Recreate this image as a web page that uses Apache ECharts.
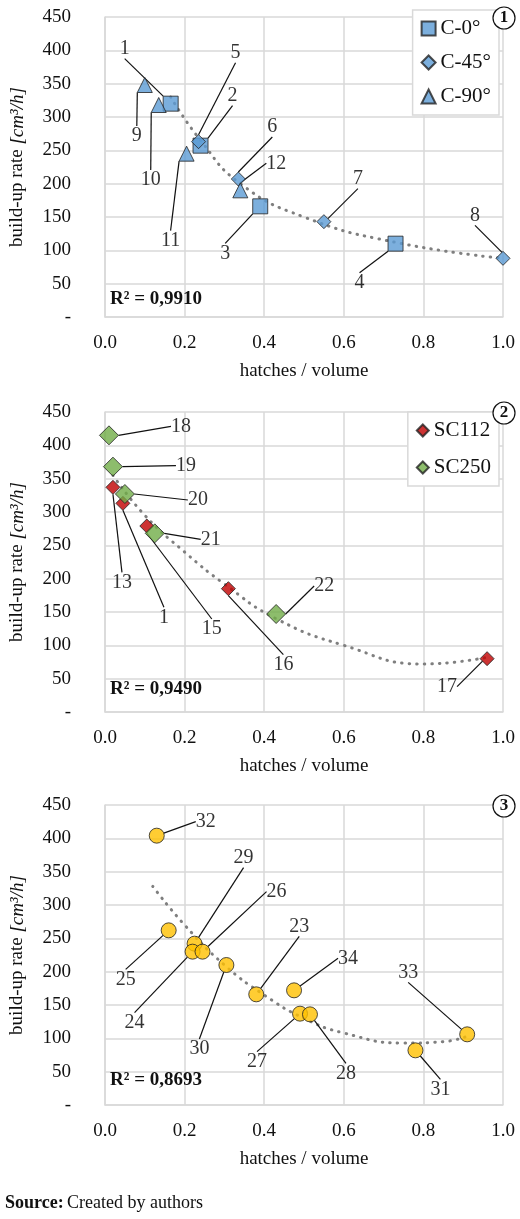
<!DOCTYPE html>
<html><head><meta charset="utf-8">
<script src="https://cdn.jsdelivr.net/npm/echarts@6/dist/echarts.min.js"></script>
<style>html,body{margin:0;padding:0;background:#fff}#c{width:520px;height:1219px}</style>
</head><body><div id="c"></div>
<script>
// Panel 1
const c0_x=[0.165,0.24,0.39,0.73], c0_y=[320,257,166,110], c0_id=['1','2','3','4'];
const c45_x=[0.235,0.335,0.55,1.0], c45_y=[263,207,143,88], c45_id=['5','6','7','8'];
const c90_x=[0.10,0.135,0.205,0.34], c90_y=[348,318,245,190], c90_id=['9','10','11','12'];
const t1_x=[0.165,0.24,0.34,0.5,0.73,1.0], t1_y=[330,265,200,150,112,88];
// Panel 2
const sc112_x=[0.02,0.045,0.105,0.31,0.96], sc112_y=[337,313,279,185,80], sc112_id=['13','1','15','16','17'];
const sc250_x=[0.01,0.02,0.05,0.125,0.43], sc250_y=[415,368,327,268,147], sc250_id=['18','19','20','21','22'];
const t2_x=[0.02,0.1,0.2,0.3,0.43,0.6,0.8,0.96], t2_y=[355,295,240,192,140,100,72,82];
// Panel 3
const p3_x=[0.13,0.16,0.225,0.22,0.245,0.305,0.38,0.475,0.49,0.515,0.78,0.91];
const p3_y=[404,262,242,230,230,210,166,172,137,136,82,106];
const p3_id=['32','25','29','24','26','30','23','34','27','28','31','33'];
const t3_x=[0.12,0.2,0.3,0.4,0.5,0.6,0.75,0.85,0.91], t3_y=[328,270,210,165,130,108,93,95,103];
const yTicks=['-','50','100','150','200','250','300','350','400','450'];
const r2=['R² = 0,9910','R² = 0,9490','R² = 0,8693'];

// label offsets (px)
const off={
 c0:[[-46,-55],[32,-50],[-35,47],[-36,39]],
 c45:[[37,-89],[34,-52],[34,-43],[-28,-43]],
 c90:[[-8,51],[-8,75],[-16,87],[36,-27]],
 sc112:[[9,95],[41,114],[65,103],[55,76],[-40,28]],
 sc250:[[72,-9],[73,-1],[73,6],[56,6],[48,-28]],
 p3:[[49,-14],[-43,49],[49,-86],[-58,71],[74,-60],[-27,84],[43,-68],[54,-32],[-43,48],[36,59],[25,39],[-59,-62]]
};
const F='Liberation Serif';
const grids=[{top:17},{top:412},{top:805}].map(g=>({left:101,right:17,top:g.top,height:300}));
function zip(xs,ys,ids){return xs.map((x,i)=>ids?[x,ys[i],ids[i]]:[x,ys[i]]);}
function sc(name,xs,ys,ids,o,symbol,size,color,gi){
 return {type:'scatter',name,xAxisIndex:gi,yAxisIndex:gi,data:zip(xs,ys,ids),symbol,symbolSize:size,z:5,
  itemStyle:{color,borderColor:'#222',borderWidth:1},
  label:{show:true,position:'inside',formatter:p=>p.value[2],fontFamily:F,fontSize:20,color:'#000',textBorderWidth:0},
  labelLine:{show:true,lineStyle:{color:'#111',width:1.2}},
  labelLayout:p=>({dx:o[p.dataIndex][0],dy:o[p.dataIndex][1],hideOverlap:false}),
  emphasis:{disabled:true}};
}
function tr(xs,ys,gi){return {type:'line',xAxisIndex:gi,yAxisIndex:gi,data:zip(xs,ys),smooth:true,symbol:'none',z:3,
 lineStyle:{color:'#7f7f7f',width:3,type:[0.5,7],cap:'round'},silent:true};}
const xAxes=[0,1,2].map(i=>({type:'value',gridIndex:i,min:0,max:1,interval:0.2,
 name:'hatches / volume',nameLocation:'middle',nameGap:45,nameTextStyle:{fontFamily:F,fontSize:19,color:'#111'},
 axisLabel:{fontFamily:F,fontSize:19,color:'#111',margin:17,formatter:v=>v.toFixed(1)},
 axisLine:{show:true,lineStyle:{color:'#d9d9d9',width:1.5}},axisTick:{show:false},
 splitLine:{show:true,lineStyle:{color:'#d9d9d9',width:1.5}}}));
const yAxes=[0,1,2].map(i=>({type:'value',gridIndex:i,min:0,max:450,interval:50,
 name:'{a|build-up rate }{b|[cm³/h]}',nameLocation:'middle',nameGap:78,nameRotate:90,
 nameTextStyle:{rich:{a:{fontFamily:F,fontSize:19,color:'#111'},b:{fontFamily:F,fontSize:19,fontStyle:'italic',color:'#111'}}},
 axisLabel:{fontFamily:F,fontSize:19,color:'#111',margin:34,align:'right',formatter:(v,idx)=>yTicks[idx]},
 axisLine:{show:true,lineStyle:{color:'#d9d9d9',width:1.5}},axisTick:{show:false},
 splitLine:{show:true,lineStyle:{color:'#d9d9d9',width:1.5}}}));
const legBase={orient:'vertical',right:21,padding:[8,8,8,8],borderColor:'#d9d9d9',borderWidth:1.5,backgroundColor:'#fff',
 itemGap:12,itemWidth:14,itemHeight:14,textStyle:{fontFamily:F,fontSize:21,color:'#111'}};
const graphic=[];
[17,412,805].forEach((t,i)=>{
 graphic.push({type:'circle',shape:{cx:504,cy:t+1,r:11},style:{fill:'#fff',stroke:'#111',lineWidth:1.2},z:20});
 graphic.push({type:'text',x:504,y:t+1,style:{text:String(i+1),font:'bold 17px '+F,fill:'#111',align:'center',verticalAlign:'middle'},z:21});
 graphic.push({type:'text',x:110,y:t+[282,277,275][i],style:{text:r2[i],font:'bold 19px '+F,fill:'#111',verticalAlign:'middle'},z:21});
});
graphic.push({type:'text',left:5,top:1194,style:{rich:{a:{font:'bold 18px '+F,fill:'#111'},b:{font:'18px '+F,fill:'#111'}},text:'{a|Source:} {b|Created by authors}'}});
const chart=echarts.init(document.getElementById('c'));
chart.setOption({animation:false,grid:grids,xAxis:xAxes,yAxis:yAxes,
 legend:[
  Object.assign({},legBase,{top:10,itemGap:13,data:['C-0°','C-45°','C-90°']}),
  Object.assign({},legBase,{top:412,itemGap:16,data:['SC112','SC250'],itemWidth:12,itemHeight:12})
 ],
 series:[
  tr(t1_x,t1_y,0),
  sc('C-0°',c0_x,c0_y,c0_id,off.c0,'rect',15,'#5b9bd5',0),
  sc('C-45°',c45_x,c45_y,c45_id,off.c45,'diamond',14,'#5b9bd5',0),
  sc('C-90°',c90_x,c90_y,c90_id,off.c90,'triangle',15,'#5b9bd5',0),
  tr(t2_x,t2_y,1),
  sc('SC112',sc112_x,sc112_y,sc112_id,off.sc112,'diamond',14,'#c00000',1),
  sc('SC250',sc250_x,sc250_y,sc250_id,off.sc250,'diamond',19,'#70ad47',1),
  tr(t3_x,t3_y,2),
  sc('P3',p3_x,p3_y,p3_id,off.p3,'circle',15,'#ffc000',2)
 ],graphic});
</script></body></html>
